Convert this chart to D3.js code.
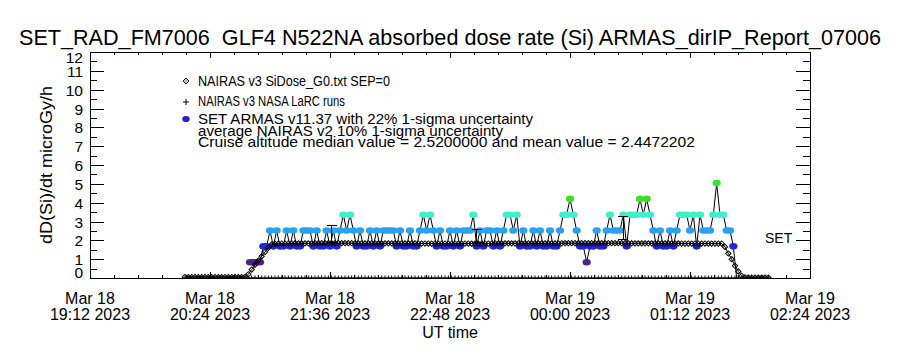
<!DOCTYPE html>
<html>
<head>
<meta charset="utf-8">
<script src="https://cdn.jsdelivr.net/npm/d3@7"></script>
<style>
body { margin: 0; background: #fff; }
text { font-family: "Liberation Sans", Arial, sans-serif; fill: #000; white-space: pre; }
</style>
</head>
<body>
<svg id="chart" width="900" height="350"></svg>
<script>
const titleText = "SET_RAD_FM7006  GLF4 N522NA absorbed dose rate (Si) ARMAS_dirIP_Report_07006";
const yLabelText = "dD(Si)/dt microGy/h";
const xLabelText = "UT time";
const yTicks = [0, 1, 2, 3, 4, 5, 6, 7, 8, 9, 10, 11, 12];
const xTickTimes = ["2023-03-18 19:12", "2023-03-18 20:24", "2023-03-18 21:36", "2023-03-18 22:48",
    "2023-03-19 00:00", "2023-03-19 01:12", "2023-03-19 02:24"];
const legendLines = [
    "NAIRAS v3 SiDose_G0.txt SEP=0",
    "NAIRAS v3 NASA LaRC runs",
    "SET ARMAS v11.37 with 22% 1-sigma uncertainty",
    "average NAIRAS v2 10% 1-sigma uncertainty",
    "Cruise altitude median value = 2.5200000 and mean value = 2.4472202"
];

// ARMAS dose rate, one record every 2 minutes
const armasStart = "2023-03-18 20:48";
const armasStepMin = 2;
const armasDose = [
    0.84,0.84,0.84,0.84,1.68,1.68,2.52,1.68,2.52,1.68,
    1.68,2.52,1.68,2.52,1.68,1.68,2.52,2.52,2.52,1.68,
    2.52,1.68,1.68,2.52,1.68,2.52,1.68,2.52,3.36,2.52,
    3.36,2.52,1.68,2.52,1.68,1.68,2.52,1.68,2.52,1.68,
    2.52,2.52,2.52,2.52,1.68,2.52,1.68,1.68,2.52,1.68,
    1.68,2.52,3.36,2.52,3.36,2.52,1.68,2.52,1.68,1.68,
    2.52,1.68,2.52,1.68,2.52,2.52,2.52,3.36,1.68,2.52,
    1.68,2.52,2.52,1.68,2.52,1.68,2.52,3.36,3.36,2.52,
    3.36,1.68,2.52,1.68,1.68,2.52,1.68,2.52,1.68,1.68,
    2.52,1.68,1.68,2.52,3.36,3.36,4.20,3.36,2.52,1.68,
    1.68,0.84,1.68,1.68,2.52,1.68,1.68,2.52,3.36,2.52,
    2.52,2.52,3.36,1.68,3.36,3.36,3.36,4.20,3.36,4.20,
    3.36,2.52,1.68,2.52,1.68,1.68,2.52,1.68,2.52,3.36,
    3.36,3.36,2.52,3.36,1.68,3.36,2.52,2.52,2.52,3.36,
    5.04,3.36,3.36,2.52,2.52,1.68,0
];

// NAIRAS v3 SiDose_G0, every 2 minutes
const nairasStart = "2023-03-18 20:09";
const nairasStepMin = 2;
const nairasDose = [
    0.05,0.05,0.05,0.05,0.05,0.05,0.05,0.05,0.05,0.05,
    0.05,0.05,0.05,0.05,0.05,0.05,0.05,0.05,0.05,
    0.2,0.45,0.7,0.93,1.15,1.38,1.6,1.78,
    1.82,1.82,1.83,1.83,1.83,1.83,1.84,1.84,1.84,1.84,
    1.84,1.84,1.85,1.85,1.85,1.85,1.85,1.85,1.85,1.85,
    1.85,1.85,1.85,1.85,1.84,1.84,1.84,1.84,1.84,1.84,
    1.84,1.84,1.84,1.84,1.84,1.84,1.84,1.84,1.84,1.84,
    1.84,1.84,1.84,1.83,1.83,1.83,1.83,1.83,1.83,1.83,
    1.83,1.83,1.83,1.83,1.83,1.83,1.83,1.83,1.83,1.83,
    1.83,1.83,1.83,1.83,1.83,1.83,1.84,1.84,1.84,1.84,
    1.84,1.84,1.84,1.84,1.84,1.84,1.84,1.84,1.84,1.84,
    1.84,1.84,1.84,1.84,1.84,1.84,1.84,1.85,1.85,1.85,
    1.85,1.85,1.85,1.85,1.85,1.85,1.85,1.85,1.85,1.85,
    1.85,1.85,1.85,1.85,1.85,1.85,1.84,1.84,1.84,1.84,
    1.84,1.84,1.84,1.84,1.84,1.84,1.84,1.84,1.84,1.84,
    1.84,1.84,1.83,1.83,1.83,1.83,1.83,1.83,1.83,1.83,
    1.83,1.83,1.83,1.83,1.83,
    1.65,1.3,1.0,0.65,0.35,0.12,0.04,
    0.02,0.02,0.02,0.02,0.02,0.02,0.02
];

// NAIRAS v3 NASA LaRC runs, every 2 minutes
const larcStart = "2023-03-18 20:09";
const larcStepMin = 2;
const larcDose = [
    0,0,0,0,0,0,0,0,0,0,0,0,0,0,0,0,
    0,0,0,0,0,0,0,0,0,0,0,0,0,0,0,0,
    0,0,0,0,0,0,0,0,0,0,0,0,0,0,0,0,
    0,0,0,0,0,0,0,0,0,0,0,0,0,0,0,0,
    0,0,0,0,0,0,0,0,0,0,0,0,0,0,0,0,
    0,0,0,0,0,0,0,0,0,0,0,0,0,0,0,0,
    0,0,0,0,0,0,0,0,0,0,0,0,0,0,0,0,
    0,0,0,0,0,0,0,0,0,0,0,0,0,0,0,0,
    0,0,0,0,0,0,0,0,0,0,0,0,0,0,0,0,
    0,0,0,0,0,0,0,0,0,0,0,0,0,0,0,0,
    0,0,0,0,0,0,0,0,0,0,0,0,0,0,0,0
];

// uncertainty bars
const errTimes = ["2023-03-18 21:37", "2023-03-18 23:04", "2023-03-19 00:32"];
const errLow = [1.86, 1.91, 2.02];
const errHigh = [2.81, 2.55, 3.29];

const doseColors = { 0: "#000000", 0.84: "#50208f", 1.68: "#2323dc", 2.52: "#27a2f0",
    3.36: "#3cf0c8", 4.2: "#3fdc2a", 5.04: "#33e633" };

const svg = d3.select("#chart"),
    margin = { top: 52, right: 90, bottom: 72, left: 90 },
    width = +svg.attr("width") - margin.left - margin.right,
    height = +svg.attr("height") - margin.top - margin.bottom,
    g = svg.append("g").attr("transform", `translate(${margin.left},${margin.top})`);

const parseTime = d3.timeParse("%Y-%m-%d %H:%M");
const series = (start, step, vals) => {
    const t0 = parseTime(start);
    return vals.map((v, i) => ({ t: d3.timeMinute.offset(t0, i * step), v: v }));
};
const armas = series(armasStart, armasStepMin, armasDose);
const nairas = series(nairasStart, nairasStepMin, nairasDose);
const larc = series(larcStart, larcStepMin, larcDose);
const majorTimes = xTickTimes.map(parseTime);

const x = d3.scaleTime().domain(d3.extent(majorTimes)).range([0, width]);
const y = d3.scaleLinear().domain([0, 12]).range([height, 0]);

// title
svg.append("text")
    .attr("x", 450).attr("y", 45)
    .attr("text-anchor", "middle")
    .attr("font-size", 22)
    .attr("textLength", 862).attr("lengthAdjust", "spacingAndGlyphs")
    .text(titleText);

// ticks
const minorX = d3.range(0, 31).map(k => new Date(+majorTimes[0] + k * 864000));
const minorY = d3.range(0, 12.01, 0.5);
const tickAxis = (axis, transform) => {
    const a = g.append("g").attr("transform", transform).call(axis);
    a.select(".domain").remove();
    a.selectAll("line").attr("stroke", "#000").attr("shape-rendering", "crispEdges");
    return a;
};
tickAxis(d3.axisBottom(x).tickValues(minorX).tickSize(-3).tickFormat(""), `translate(0,${height})`);
tickAxis(d3.axisBottom(x).tickValues(majorTimes).tickSize(-6).tickFormat(""), `translate(0,${height})`);
tickAxis(d3.axisTop(x).tickValues(minorX).tickSize(-3).tickFormat(""), "translate(0,0)");
tickAxis(d3.axisTop(x).tickValues(majorTimes).tickSize(-6).tickFormat(""), "translate(0,0)");
tickAxis(d3.axisLeft(y).tickValues(minorY).tickSize(-7).tickFormat(""), "translate(0,0)");
tickAxis(d3.axisLeft(y).tickValues(yTicks).tickSize(-14).tickFormat(""), "translate(0,0)");
tickAxis(d3.axisRight(y).tickValues(minorY).tickSize(-7).tickFormat(""), `translate(${width},0)`);
tickAxis(d3.axisRight(y).tickValues(yTicks).tickSize(-14).tickFormat(""), `translate(${width},0)`);

g.append("rect")
    .attr("x", 0.5).attr("y", 0.5)
    .attr("width", width).attr("height", height)
    .attr("fill", "none").attr("stroke", "#000")
    .attr("shape-rendering", "crispEdges");

// y tick labels (IDL nudges the end labels inside)
g.selectAll(".ylab").data(yTicks).enter().append("text")
    .attr("class", "ylab")
    .attr("x", -7)
    .attr("y", d => d === 0 ? y(d) : d === 12 ? y(d) + 10.5 : y(d) + 6)
    .attr("text-anchor", "end")
    .attr("font-size", 15.5)
    .text(d => d);

// x tick labels
const fmtDay = d3.timeFormat("%b %d"), fmtTime = d3.timeFormat("%H:%M %Y");
const xl = g.selectAll(".xlab").data(majorTimes).enter().append("g").attr("class", "xlab");
xl.append("text").attr("x", d => x(d)).attr("y", height + 26)
    .attr("text-anchor", "middle").attr("font-size", 16).text(fmtDay);
xl.append("text").attr("x", d => x(d)).attr("y", height + 42)
    .attr("text-anchor", "middle").attr("font-size", 16).text(fmtTime);

g.append("text")
    .attr("x", width / 2).attr("y", height + 60)
    .attr("text-anchor", "middle").attr("font-size", 16)
    .text(xLabelText);

svg.append("text")
    .attr("transform", "translate(52,165) rotate(-90)")
    .attr("text-anchor", "middle").attr("font-size", 17)
    .attr("textLength", 158).attr("lengthAdjust", "spacingAndGlyphs")
    .text(yLabelText);

// plot area
svg.append("defs").append("clipPath").attr("id", "clip")
    .append("rect").attr("width", width).attr("height", height);
const plot = g.append("g").attr("clip-path", "url(#clip)");

const line = d3.line().x(d => x(d.t)).y(d => y(d.v));

// ARMAS
plot.append("path").datum(armas)
    .attr("d", line).attr("fill", "none").attr("stroke", "#000").attr("stroke-width", 1);
plot.selectAll(".armas").data(armas.filter(d => d.v > 0)).enter().append("ellipse")
    .attr("class", "armas")
    .attr("cx", d => x(d.t)).attr("cy", d => y(d.v))
    .attr("rx", 4.1).attr("ry", 3.3)
    .attr("fill", d => doseColors[d.v]);

// NAIRAS SiDose diamonds
const diamond = d3.symbol().type(d3.symbolSquare).size(14);
plot.append("path").datum(nairas)
    .attr("d", line).attr("fill", "none").attr("stroke", "#000").attr("stroke-width", 1);
plot.selectAll(".nairas").data(nairas).enter().append("path")
    .attr("class", "nairas")
    .attr("transform", d => `translate(${x(d.t)},${y(d.v)}) rotate(45)`)
    .attr("d", diamond)
    .attr("fill", "none").attr("stroke", "#000").attr("stroke-width", 1);

// LaRC plus signs
const plusPath = "M-2.5,0H2.5M0,-2.5V2.5";
plot.selectAll(".larc").data(larc).enter().append("path")
    .attr("class", "larc")
    .attr("transform", d => `translate(${x(d.t)},${y(d.v)})`)
    .attr("d", plusPath).attr("stroke", "#000").attr("stroke-width", 1);

// uncertainty bars
const errs = errTimes.map((t, i) => ({ t: parseTime(t), lo: errLow[i], hi: errHigh[i] }));
const eb = plot.selectAll(".err").data(errs).enter().append("g").attr("class", "err")
    .attr("stroke", "#000").attr("stroke-width", 1).attr("shape-rendering", "crispEdges");
eb.append("line").attr("x1", d => x(d.t)).attr("x2", d => x(d.t))
    .attr("y1", d => y(d.lo)).attr("y2", d => y(d.hi));
eb.append("line").attr("x1", d => x(d.t) - 5).attr("x2", d => x(d.t) + 5)
    .attr("y1", d => y(d.hi)).attr("y2", d => y(d.hi));
eb.append("line").attr("x1", d => x(d.t) - 5).attr("x2", d => x(d.t) + 5)
    .attr("y1", d => y(d.lo)).attr("y2", d => y(d.lo));

g.append("text").attr("x", 675).attr("y", 191).attr("font-size", 14).text("SET");

// legend
const legX = 96, legY = [34, 54, 72, 84, 95];
const leg = g.append("g");
leg.append("path")
    .attr("transform", `translate(${legX},${legY[0] - 5}) rotate(45)`)
    .attr("d", d3.symbol().type(d3.symbolSquare).size(18))
    .attr("fill", "#bbb").attr("stroke", "#000").attr("stroke-width", 0.8);
leg.append("path")
    .attr("transform", `translate(${legX},${legY[1] - 4})`)
    .attr("d", "M-3,0H3M0,-3V3").attr("stroke", "#000");
leg.append("ellipse")
    .attr("cx", legX).attr("cy", legY[2] - 5).attr("rx", 3.8).attr("ry", 3.1)
    .attr("fill", doseColors[1.68]);
const legWidths = [192, 147, 335, 305, 497];
leg.selectAll(".legtext").data(legendLines).enter().append("text")
    .attr("class", "legtext")
    .attr("x", legX + 12).attr("y", (d, i) => legY[i])
    .attr("font-size", 14)
    .attr("textLength", (d, i) => legWidths[i]).attr("lengthAdjust", "spacingAndGlyphs")
    .text(d => d);
</script>
</body>
</html>
